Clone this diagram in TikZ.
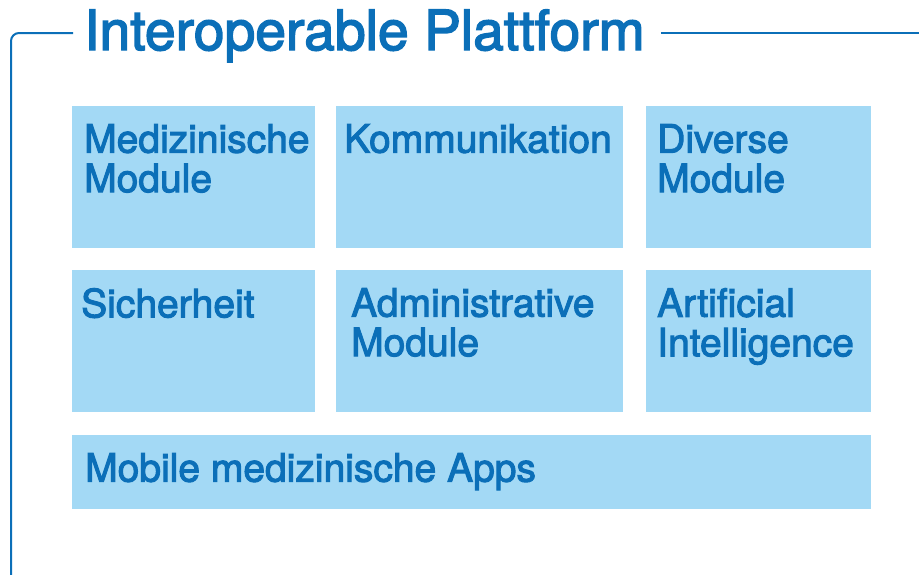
\documentclass[tikz,border=0pt]{standalone}
\usepackage{fontspec}
\setmainfont{TeX Gyre Heros}[FakeBold=2.6]
\usetikzlibrary{positioning,calc}
\definecolor{ink}{HTML}{0B6FB8}
\definecolor{sky}{HTML}{A3D9F5}
\tikzset{frame/.style={draw=ink,line width=2pt,rounded corners=8pt},
  modbox/.style={fill=sky,draw=none,inner sep=0pt,anchor=north west},
  modtext/.style={text=ink,align=left,inner sep=0pt,anchor=north west,font=\fontsize{39}{39.5}\selectfont},
  headtext/.style={text=ink,inner sep=0pt,anchor=base west,font=\fontsize{55.3}{60}\selectfont}}

\begin{document}
\begin{tikzpicture}[x=1pt,y=-1pt]
\useasboundingbox (0,0) rectangle (919,574);
\node[headtext] (head) at (84,50) {Interoperable Plattform};
\coordinate (corner) at (11,33);
\coordinate (bottom) at (11,590);
\coordinate (right) at (925,33);
\coordinate (headl) at ($(head.west)+(-11,0)$);
\coordinate (headr) at ($(head.east)+(16,0)$);
\draw[frame] (headl |- corner) -- (corner) -- (bottom);
\draw[frame] (headr |- corner) -- (right);
% first row
\node[modbox,minimum width=243,minimum height=142] (med) at (72,106) {};
\node[modbox,minimum width=287,minimum height=142] (komm) at (336,106) {};
\node[modbox,minimum width=225,minimum height=142] (div) at (646,106) {};
\node[modtext] at ($(med.north west)+(12,18)$) {Medizinische\\Module};
\node[modtext] at ($(komm.north west)+(8,18)$) {Kommunikation};
\node[modtext] at ($(div.north west)+(11,18)$) {Diverse\\Module};
% second row
\node[modbox,minimum width=243,minimum height=142] (sich) at (72,270) {};
\node[modbox,minimum width=287,minimum height=142] (admin) at (336,270) {};
\node[modbox,minimum width=225,minimum height=142] (ai) at (646,270) {};
\node[modtext] at ($(sich.north west)+(9,18)$) {Sicherheit};
\node[modtext] at ($(admin.north west)+(15,18)$) {Administrative\\Module};
\node[modtext] at ($(ai.north west)+(11,18)$) {Artificial\\Intelligence};
% apps
\node[modbox,minimum width=799,minimum height=74] (apps) at (72,435) {};
\node[modtext] at ($(apps.north west)+(13,18)$) {Mobile medizinische Apps};
\end{tikzpicture}
\end{document}
